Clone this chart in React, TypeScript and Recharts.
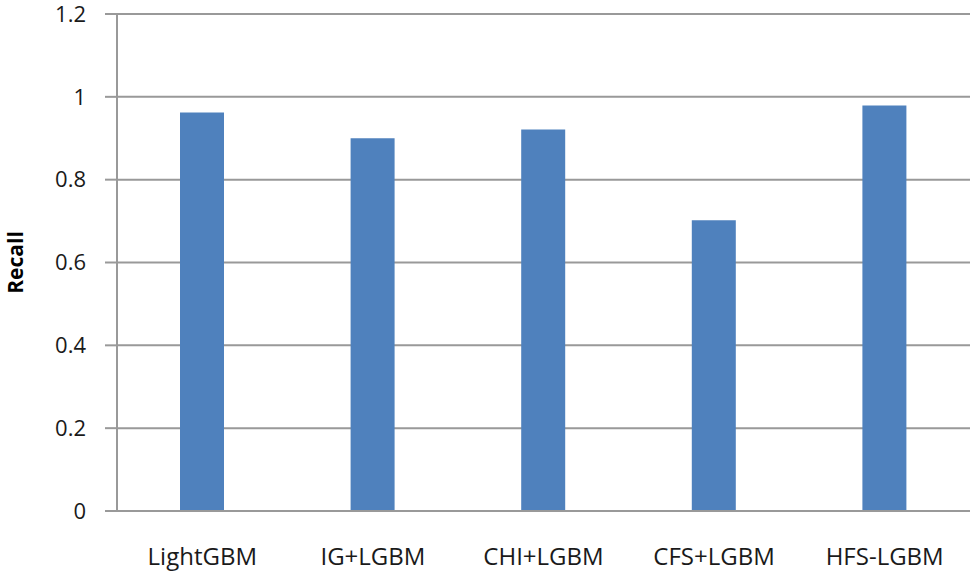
import { BarChart, Bar, XAxis, YAxis, CartesianGrid, Label } from 'recharts'

const categories = ['LightGBM', 'IG+LGBM', 'CHI+LGBM', 'CFS+LGBM', 'HFS-LGBM']
const recall = [0.962, 0.9, 0.921, 0.702, 0.979]
const yTicks = [0, 0.2, 0.4, 0.6, 0.8, 1, 1.2]

const data = categories.map((name, i) => ({ name, recall: recall[i] }))

const axisColor = '#999999'
const font = '"Open Sans", sans-serif'

export default function App() {
  return (
    <div style={{ position: 'absolute', left: 0, top: 0, background: '#fff' }}>
      <BarChart
        width={975}
        height={576}
        data={data}
        margin={{ top: 14, right: 5, left: 0, bottom: 0 }}
      >
        <CartesianGrid vertical={false} stroke={axisColor} strokeWidth={2} />
        <XAxis
          dataKey="name"
          height={65}
          tickLine={false}
          tickSize={0}
          tickMargin={37}
          axisLine={{ stroke: axisColor, strokeWidth: 2 }}
          tick={{ fontFamily: font, fontSize: 24, fill: '#1a1a1a' }}
          interval={0}
        />
        <YAxis
          width={117}
          domain={[0, 1.2]}
          ticks={yTicks}
          tickSize={12}
          tickMargin={19}
          tickLine={{ stroke: axisColor, strokeWidth: 2 }}
          axisLine={{ stroke: axisColor, strokeWidth: 2 }}
          tick={{ fontFamily: font, fontSize: 22, fill: '#1a1a1a' }}
          tickFormatter={(v) => String(v)}
        >
          <Label
            value="Recall"
            angle={-90}
            position="insideLeft"
            offset={16}
            style={{ fontFamily: font, fontSize: 21, fontWeight: 700, fill: '#000', textAnchor: 'middle' }}
          />
        </YAxis>
        <Bar dataKey="recall" fill="#4f81bd" barSize={44} isAnimationActive={false} />
      </BarChart>
    </div>
  )
}
